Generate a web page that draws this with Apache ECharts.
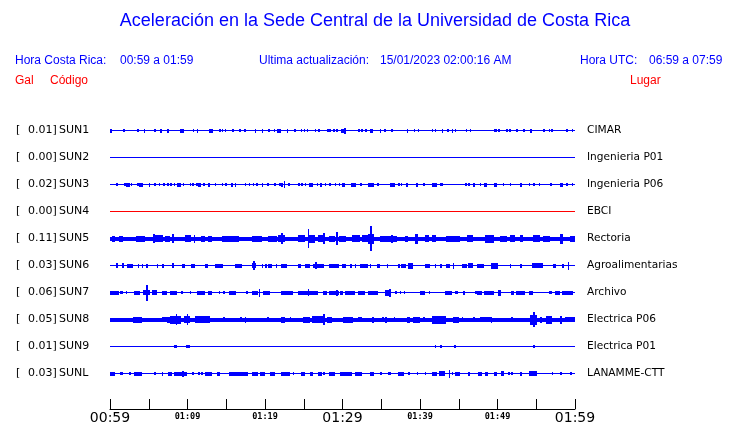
<!DOCTYPE html>
<html>
<head>
<meta charset="utf-8">
<script src="https://cdn.jsdelivr.net/npm/echarts@6/dist/echarts.min.js"></script>
<style>html,body{margin:0;padding:0;background:#fff}#c{width:740px;height:423px}</style>
</head>
<body>
<div id="c"></div>
<script>
// ---- data ----
const tickLabels = ['00:59', '01:09', '01:19', '01:29', '01:39', '01:49', '01:59']; // every 10 min from 0
const codes = ['SUN1', 'SUN2', 'SUN3', 'SUN4', 'SUN5', 'SUN6', 'SUN7', 'SUN8', 'SUN9', 'SUNL'];
const peakGal = [0.01, 0.00, 0.02, 0.00, 0.11, 0.03, 0.06, 0.05, 0.01, 0.03];
const places = ['CIMAR', 'Ingenieria P01', 'Ingenieria P06', 'EBCI', 'Rectoria', 'Agroalimentarias', 'Archivo', 'Electrica P06', 'Electrica P01', 'LANAMME-CTT'];
// background (noise) envelope half-amplitude of each trace
const baseAmp = [0, 0, 0, 0, 1.5, 0, 0, 1.5, 0, 0];
// bursts: [minute, amp] or [startMinute, endMinute, amp]; minutes after 00:59
const sun1 = [[0.0,1.5],[1.7,1.2],[3.5,1.2],[4.4,4.5,1.5],[5.7,1],[6.5,6.7,1.5],[7.4,7.6,1.5],[9.0,9.5,1.5],[10.7,1],[11.2,1.5],[12.8,13.3,1.5],[14.1,1],[14.4,1],[14.8,1],[15.8,1],[16.7,1],[17.3,1],[18.7,1.5],[19.6,19.8,1.5],[20.4,1],[21.1,1],[21.6,22.0,1.5],[22.8,23.0,1.5],[23.8,1],[24.6,1],[25.0,1],[25.4,1],[26.4,1],[26.9,1],[28.0,1],[28.3,1],[28.8,1],[29.2,1],[29.8,30.3,1.5],[30.2,2.5],[32.0,1],[32.4,1],[32.9,1],[33.6,33.9,1.5],[34.8,1.5],[35.4,1],[36.3,1],[38.3,38.5,1.5],[39.2,1],[39.7,1],[41.5,1],[41.9,1],[42.8,43.0,1.5],[43.5,1],[44.1,44.3,1.5],[44.5,1],[45.9,1],[46.4,1],[49.5,1],[49.7,1],[50.1,1],[51.1,1],[51.5,1],[52.4,1],[53.3,1],[54.2,1.5],[55.9,1],[56.6,1],[56.9,1],[58.9,1],[59.6,1]];
const sun2 = [];
const sun3 = [[0.8,1.2],[1.8,1.2],[2.0,2.6,1.5],[2.7,1.2],[3.5,1.2],[3.8,4.2,1.5],[5.0,5.2,1.5],[5.7,1.2],[6.3,1.2],[6.9,1.2],[7.4,1.2],[7.8,1.2],[8.2,1.2],[8.7,9.1,1.5],[9.4,1.2],[10.3,1.2],[10.6,1.2],[11.1,1.2],[11.4,11.7,1.5],[12.0,1.2],[12.7,12.9,1.5],[13.5,1.2],[14.4,1.2],[14.9,1.2],[15.6,15.9,1.5],[16.1,16.3,1.5],[17.4,1.2],[17.9,1.2],[18.4,1.2],[18.9,1.2],[19.6,19.8,1.5],[20.3,1.2],[21.2,1.2],[21.8,1.2],[22.1,1.5],[22.4,3],[23.0,1.2],[24.3,1.2],[24.7,1.2],[25.1,1.2],[25.7,26.2,1.5],[26.7,1.2],[27.1,27.3,1.5],[27.7,1.2],[28.3,1.2],[29.0,1.2],[29.5,1.2],[29.9,30.3,1.5],[31.1,31.7,1.5],[32.3,1.2],[33.3,34.0,1.5],[34.5,1.2],[36.1,36.8,1.5],[37.2,1.2],[37.5,1.2],[38.2,38.5,1.5],[39.5,39.8,1.5],[40.4,1.2],[41.5,42.2,1.5],[42.6,1.2],[42.8,1.2],[45.8,1.2],[46.2,1.2],[46.8,47.1,1.5],[47.7,1.2],[48.3,48.6,1.5],[49.6,49.9,1.5],[50.7,1.2],[51.6,1.2],[52.9,53.2,1.5],[54.0,1.2],[54.6,1.2],[55.3,1.2],[56.8,1.2],[58.1,58.4,1.5],[58.9,1.2],[59.6,1.2]];
const sun4 = [];
const sun5 = [[0.2,0.6,2.5],[1.1,1.7,2.5],[3.4,4.5,2.5],[5.6,4],[5.8,6.9,3],[7.1,7.7,2.5],[8.0,8.2,4],[9.7,10.5,3],[10.8,3.5],[11.8,12.3,2.5],[12.7,13.1,2.5],[14.4,16.6,2.5],[18.3,19.6,2.5],[20.4,21.5,2.5],[21.7,22.6,3],[22.1,5],[24.3,25.2,3],[25.5,9],[25.6,26.4,3.5],[26.9,27.7,3],[27.5,5],[28.2,29.0,2.5],[29.2,6],[29.5,30.5,2.5],[31.2,32.3,3],[32.5,33.3,3],[33.3,34.0,4.5],[33.6,12],[34.8,37.0,2.5],[36.3,3.5],[38.1,38.5,2.5],[39.4,39.8,4.5],[40.6,41.1,3],[41.5,42.0,3],[43.4,45.2,2.5],[46.0,46.9,3],[48.4,49.5,3.5],[50.3,51.2,2.5],[51.6,52.3,3],[52.9,53.3,3],[54.6,55.5,3],[55.9,56.8,2.5],[58.1,58.5,4.5],[59.3,60,2.5]];
const sun6 = [[0.8,2],[1.5,1.85,2],[2.2,3.0,1.5],[3.6,1.5],[4.1,1.5],[4.7,1.5],[6.0,6.2,1.5],[6.75,1.5],[8.0,8.2,2],[9.3,9.7,1.5],[10.5,11.0,1.5],[12.3,12.7,1.5],[13.5,14.6,1.5],[16.1,17.0,1.5],[18.3,18.9,2],[18.5,4],[19.6,1.5],[20.0,1.5],[20.4,20.9,1.5],[21.4,1.5],[22.1,22.8,1.5],[24.3,24.7,1.5],[25.2,25.8,1.5],[26.2,27.6,1.5],[26.5,3],[28.2,29.5,1.5],[29.9,30.3,1.5],[30.3,30.5,1.5],[31.0,1.5],[31.6,1.5],[32.3,33.3,1.5],[33.5,1.5],[34.4,34.8,1.5],[35.7,1.5],[37.2,1.5],[37.6,38.2,1.5],[38.5,39.1,2.5],[40.6,41.3,1.5],[41.9,1.5],[42.6,1.5],[43.4,43.9,1.5],[44.2,2.5],[45.4,46.0,1.5],[46.2,46.9,2],[47.3,48.2,1.5],[49.2,50.0,2.5],[51.6,1.5],[52.9,1.5],[54.4,55.9,2],[57.2,57.6,1.5],[58.3,58.6,1.5],[59.05,3.5]];
const sun7 = [[0.0,1.1,1.5],[1.3,1.7,1],[2.0,2.2,1],[3.1,3.9,1.5],[4.2,5.2,2],[4.65,7.5],[5.4,6.0,2],[6.7,7.3,1.5],[7.7,8.6,1.5],[9.2,1],[10.3,1],[11.2,12.3,1.5],[12.7,13.1,1.5],[14.0,1],[14.6,1],[15.3,16.3,1.5],[17.6,1],[18.3,19.1,1.5],[19.2,3.5],[19.8,20.6,1.5],[22.1,23.6,1.5],[24.3,26.9,1.5],[25.5,3],[27.5,28.0,1.5],[28.2,29.5,1.5],[29.2,2.5],[29.7,30.1,1.5],[30.3,31.6,1.5],[32.0,32.9,1.5],[33.3,34.6,1.5],[35.5,36.3,2.5],[36.0,3.5],[36.8,1],[37.4,1],[37.9,1],[40.0,40.6,1.5],[41.1,41.3,1],[43.2,44.1,1.5],[44.5,1],[44.7,1],[45.6,1.5],[47.1,1],[47.4,48.0,1.5],[48.2,49.5,1.5],[50.0,50.5,2.5],[51.8,52.1,1.5],[52.4,53.5,1.5],[54.0,54.6,1.5],[56.6,1],[56.8,1],[57.4,58.1,1.5],[58.3,59.8,1.5]];
const sun8 = [[3.0,4.1,2.5],[6.7,7.3,2],[7.3,7.7,2.5],[7.7,9.2,3.5],[8.5,5],[9.6,10.3,3],[9.9,5],[11.0,12.9,3],[14.6,2],[16.8,2],[17.4,2.5],[20.3,2],[22.1,22.6,2.5],[23.2,2],[24.9,25.8,2.5],[26.0,27.7,3],[27.5,5],[28.0,28.6,2.5],[30.1,31.4,2.5],[32.0,32.5,2],[33.8,2.5],[35.1,35.3,2],[35.5,2.5],[36.6,2],[38.3,38.7,2.5],[39.1,40.0,2.5],[40.4,2],[41.5,43.4,3.5],[44.3,45.0,2.5],[45.4,2],[46.9,2],[47.7,49.2,2],[49.1,2.5],[51.8,2],[54.2,55.1,4.5],[54.6,7],[55.5,2.5],[56.3,57.0,3.5],[58.1,3.5],[58.7,60,2]];
const sun9 = [[8.2,8.6,1.2],[9.8,1],[10.1,1],[41.9,1],[42.6,1],[44.4,1],[54.6,1.2]];
const sunL = [[0.0,0.7,1.5],[1.3,1.7,1],[2.45,1],[3.1,4.1,1.5],[5.7,1],[6.7,6.9,1.5],[7.5,8.0,1.5],[8.2,9.9,1.5],[9.3,2.5],[10.6,1],[11.4,1],[11.8,12.0,1],[12.3,13.1,1.5],[13.8,14.2,1.5],[15.3,17.8,1.5],[18.3,19.1,1.5],[19.4,20.0,1.5],[20.6,21.3,1.5],[22.1,23.2,1.5],[23.6,1],[24.7,25.1,1.5],[25.8,26.2,1.5],[26.9,27.3,1.5],[27.5,1],[28.2,29.0,1.5],[29.7,30.1,1.5],[30.1,31.2,1.5],[31.6,32.5,1.5],[33.5,34.0,1.5],[34.8,35.1,1],[35.9,36.3,1],[37.2,37.9,1.5],[38.5,1],[39.6,39.8,1],[40.6,1],[41.5,42.2,1.5],[42.4,43.2,2],[43.7,3.5],[44.1,1],[44.5,45.2,1.5],[46.2,46.5,1.5],[47.5,48.0,1.5],[48.4,48.8,1.5],[49.5,49.9,1.5],[50.5,50.8,2],[51.4,1],[51.8,1],[52.9,53.1,1.5],[54.0,55.1,2],[57.0,1],[58.1,58.3,1],[59.4,1]];
const bursts = [sun1, sun2, sun3, sun4, sun5, sun6, sun7, sun8, sun9, sunL];

// ---- styles / layout ----
const SPACING = 27;
const SPIKE_W = 0.2;
const BLUE = '#0000ff', RED = '#ff0000';
const traceColor = i => (i === 3 ? RED : BLUE);
const TEXT_FONT = 'Liberation Sans, Arial, sans-serif';
const LABEL_FONT = 'DejaVu Sans';

const burstData = [];
bursts.forEach((arr, k) => arr.forEach(b => {
  if (b.length === 2) burstData.push([b[0], b[0] + SPIKE_W, b[1], k]);
  else burstData.push([b[0], b[1], b[2], k]);
}));
const baseData = codes.map((c, k) => [k, baseAmp[k]]);

function rectFor(api, t0, t1, base, amp, color) {
  const a = api.coord([t0, base - amp]);
  const b = api.coord([t1, base + amp]);
  const c = api.coord([t0, base]);
  const cy = Math.floor(c[1]);
  const top = amp === 0 ? cy : Math.min(Math.round(Math.min(a[1], b[1])), cy);
  const bottom = amp === 0 ? cy + 1 : Math.max(Math.round(Math.max(a[1], b[1])) + 1, cy + 1);
  const x0 = Math.round(a[0]);
  const x1 = Math.max(x0 + 1, Math.round(b[0]));
  return { type: 'rect', shape: { x: x0, y: top, width: x1 - x0, height: bottom - top }, style: { fill: color } };
}

const chart = echarts.init(document.getElementById('c'), null, { renderer: 'canvas' });
chart.setOption({
  animation: false,
  backgroundColor: '#fff',
  grid: { left: 110, right: 165, top: 103, bottom: 14, outerBoundsMode: 'none', containLabel: false },
  xAxis: {
    type: 'value', min: 0, max: 60, interval: 5,
    axisLine: { onZero: false, lineStyle: { color: '#000', width: 1 } },
    axisTick: { inside: true, length: 10, lineStyle: { color: '#000' } },
    splitLine: { show: false },
    axisLabel: {
      margin: 2, verticalAlign: 'top', showMinLabel: true, showMaxLabel: true, hideOverlap: false,
      formatter: v => {
        if (v % 10 !== 0) return '';
        const i = v / 10;
        return (i % 3 === 0) ? '{big|' + tickLabels[i] + '}' : '{small|' + tickLabels[i] + '}';
      },
      rich: {
        big: { fontFamily: 'DejaVu Sans', fontSize: 14, color: '#000', verticalAlign: 'top' },
        small: { fontFamily: 'DejaVu Sans Mono', fontSize: 8.5, fontWeight: 'bold', color: '#000', verticalAlign: 'top', padding: [1, 0, 0, 0] }
      }
    }
  },
  yAxis: [
    {
      type: 'value', min: 0, max: 306, interval: SPACING, inverse: true,
      axisLine: { show: false }, axisTick: { show: false }, splitLine: { show: false },
      axisLabel: {
        margin: 94, align: 'left', showMinLabel: false, showMaxLabel: false,
        formatter: v => {
          const k = Math.round(v / SPACING) - 1;
          if (k < 0 || k >= codes.length) return '';
          return '{b|[}{v|' + peakGal[k].toFixed(2) + ']}{c|' + codes[k] + '}';
        },
        rich: {
          b: { fontFamily: LABEL_FONT, fontSize: 11, color: '#000', width: 12 },
          v: { fontFamily: LABEL_FONT, fontSize: 11, color: '#000', width: 30 },
          c: { fontFamily: LABEL_FONT, fontSize: 11, color: '#000', padding: [0, 0, 0, 1] }
        }
      }
    },
    {
      type: 'value', min: 0, max: 306, interval: SPACING, inverse: true, position: 'right',
      axisLine: { show: false }, axisTick: { show: false }, splitLine: { show: false },
      axisLabel: {
        margin: 12, showMinLabel: false, showMaxLabel: false,
        fontFamily: LABEL_FONT, fontSize: 10.6, color: '#000',
        formatter: v => {
          const k = Math.round(v / SPACING) - 1;
          return (k < 0 || k >= places.length) ? '' : places[k];
        }
      }
    }
  ],
  graphic: [
    { type: 'text', x: 375, y: 12, style: { text: 'Aceleración en la Sede Central de la Universidad de Costa Rica', fill: BLUE, font: '18px ' + TEXT_FONT, textAlign: 'center' } },
    { type: 'text', x: 15, y: 55, style: { text: 'Hora Costa Rica:', fill: BLUE, font: '12px ' + TEXT_FONT } },
    { type: 'text', x: 120, y: 55, style: { text: '00:59 a 01:59', fill: BLUE, font: '12px ' + TEXT_FONT } },
    { type: 'text', x: 259, y: 55, style: { text: 'Ultima actualización:', fill: BLUE, font: '12px ' + TEXT_FONT } },
    { type: 'text', x: 380, y: 55, style: { text: '15/01/2023 02:00:16 AM', fill: BLUE, font: '12px ' + TEXT_FONT } },
    { type: 'text', x: 580, y: 55, style: { text: 'Hora UTC:', fill: BLUE, font: '12px ' + TEXT_FONT } },
    { type: 'text', x: 649, y: 55, style: { text: '06:59 a 07:59', fill: BLUE, font: '12px ' + TEXT_FONT } },
    { type: 'text', x: 15, y: 75, style: { text: 'Gal', fill: RED, font: '12px ' + TEXT_FONT } },
    { type: 'text', x: 50, y: 75, style: { text: 'Código', fill: RED, font: '12px ' + TEXT_FONT } },
    { type: 'text', x: 630, y: 75, style: { text: 'Lugar', fill: RED, font: '12px ' + TEXT_FONT } }
  ],
  series: [
    {
      type: 'custom', name: 'base', data: baseData, silent: true,
      renderItem: (params, api) => {
        const k = api.value(0);
        return rectFor(api, 0, 60, (k + 1) * SPACING, api.value(1), traceColor(k));
      }
    },
    {
      type: 'custom', name: 'bursts', data: burstData, silent: true,
      renderItem: (params, api) => {
        const k = api.value(3);
        return rectFor(api, api.value(0), api.value(1), (k + 1) * SPACING, api.value(2), traceColor(k));
      }
    }
  ]
});
</script>
</body>
</html>
